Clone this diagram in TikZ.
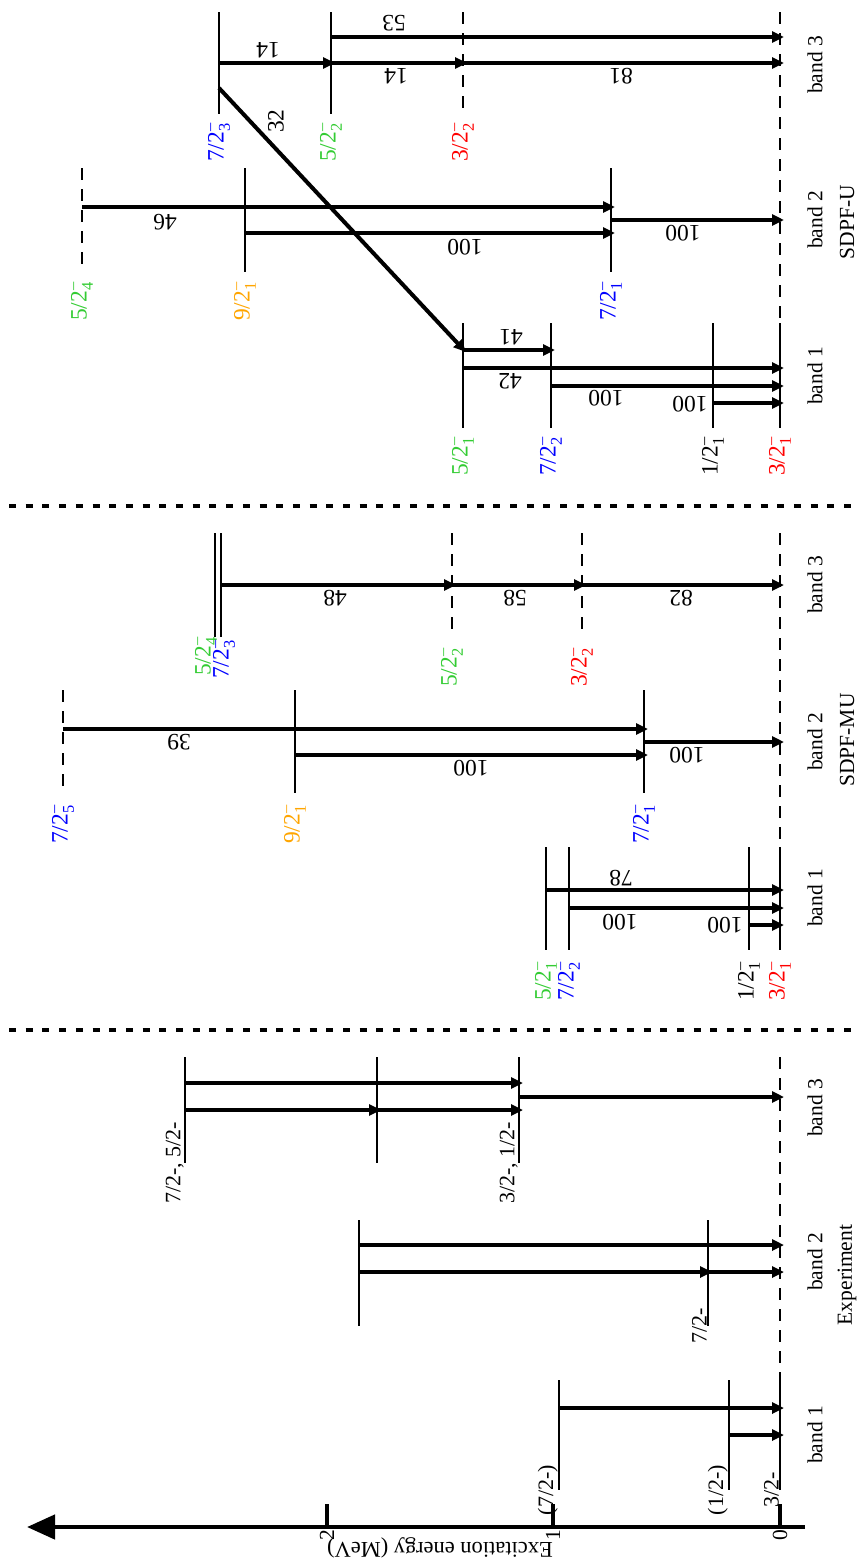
\documentclass[tikz,border=0pt]{standalone}
\usepackage{amsmath}
\usepackage{fontspec}
\setmainfont{Liberation Serif}
\setsansfont{Liberation Sans}
\usetikzlibrary{arrows.meta}
\definecolor{lvblue}{HTML}{0000FF}
\definecolor{lvgreen}{HTML}{33CC33}
\definecolor{lvred}{HTML}{FF0000}
\definecolor{lvorange}{HTML}{FFA500}
\newcommand{\jpi}[2]{#1$_{\text{#2}}^{\text{--}}$}

\begin{document}
\begin{tikzpicture}[x=1pt,y=-1pt,
font=\fontsize{21.5}{24}\selectfont,
lvl/.style={line width=1.6pt},
dlvl/.style={line width=1.6pt,dash pattern=on 12pt off 9pt},
lev/.style={inner sep=0pt,outer sep=0pt,minimum width=0pt,minimum height=#1,
append after command={(\tikzlastnode.north) edge[lvl] (\tikzlastnode.south)}},
dlev/.style={inner sep=0pt,outer sep=0pt,minimum width=0pt,minimum height=#1,
append after command={(\tikzlastnode.north) edge[dlvl] (\tikzlastnode.south)}},
tr/.style={line width=4pt,shorten >=-4pt,-{Triangle[length=12pt,width=11pt]}},
inten/.style={rotate=180,inner sep=0pt,font=\fontsize{23.5}{26}\selectfont},
spin/.style={rotate=90,anchor=east,inner sep=0pt,font=\fontsize{23.5}{26}\selectfont},
expspin/.style={rotate=90,anchor=south,inner sep=1pt,font=\fontsize{22}{24}\selectfont},
bandlab/.style={rotate=90,inner sep=0pt},
sep/.style={line width=4pt,dash pattern=on 7pt off 9.7pt}
]
\useasboundingbox (0,0) rectangle (862,1564);

% SDPF-U
\node[lev=102pt] (u3a) at (219,63) {};
\node[lev=102pt] (u3b) at (331,63) {};
\node[dlev=102pt] (u3c) at (463,63) {};
\node[dlev=104pt] (u2a) at (82,220) {};
\node[lev=104pt] (u2b) at (245,220) {};
\node[lev=104pt] (u2c) at (611,220) {};
\node[lev=105pt] (u1a) at (463,375.5) {};
\node[lev=105pt] (u1b) at (551,375.5) {};
\node[lev=105pt] (u1c) at (713,375.5) {};
\node[lev=105pt] (u1g) at (780,375.5) {};
\node[dlev=311pt] (u0) at (780,167.5) {};

\node[spin,lvblue] (lu3a) at ([yshift=-9pt]u3a.south) {\jpi{7/2}{3}};
\node[spin,lvgreen] (lu3b) at ([yshift=-9pt]u3b.south) {\jpi{5/2}{2}};
\node[spin,lvred] (lu3c) at ([yshift=-9pt]u3c.south) {\jpi{3/2}{2}};
\node[spin,lvgreen] (lu2a) at ([yshift=-10pt]u2a.south) {\jpi{5/2}{4}};
\node[spin,lvorange] (lu2b) at ([yshift=-10pt]u2b.south) {\jpi{9/2}{1}};
\node[spin,lvblue] (lu2c) at ([yshift=-10pt]u2c.south) {\jpi{7/2}{1}};
\node[spin,lvgreen] (lu1a) at ([yshift=-9pt]u1a.south) {\jpi{5/2}{1}};
\node[spin,lvblue] (lu1b) at ([yshift=-9pt]u1b.south) {\jpi{7/2}{2}};
\node[spin] (lu1c) at ([yshift=-9pt]u1c.south) {\jpi{1/2}{1}};
\node[spin,lvred] (lu1g) at ([yshift=-9pt]u1g.south) {\jpi{3/2}{1}};

\draw[tr] (u3b |- 0,37) -- (u1g |- 0,37);
\draw[tr] (u3a |- 0,63) -- (u3b |- 0,63);
\draw[tr] (u3b |- 0,63) -- (u3c |- 0,63);
\draw[tr] (u3c |- 0,63) -- (u1g |- 0,63);
\draw[tr] (u3a |- 0,88) -- (u1a |- 0,349);
\draw[tr] (u2a |- 0,207) -- (u2c |- 0,207);
\draw[tr] (u2b |- 0,233) -- (u2c |- 0,233);
\draw[tr] (u2c |- 0,220) -- (u1g |- 0,220);
\draw[tr] (u1a |- 0,350) -- (u1b |- 0,350);
\draw[tr] (u1a |- 0,368) -- (u1g |- 0,368);
\draw[tr] (u1b |- 0,386) -- (u1g |- 0,386);
\draw[tr] (u1c |- 0,403) -- (u1g |- 0,403);

\node[inten] (iu53) at (394,23) {53};
\node[inten] (iu14a) at (268,50) {14};
\node[inten] (iu14b) at (396,76) {14};
\node[inten] (iu81) at (621,76) {81};
\node[inten,rotate=-90] (iu32) at (276,121) {32};
\node[inten] (iu46) at (165,222) {46};
\node[inten] (iu100a) at (465,247) {100};
\node[inten] (iu100b) at (683,233) {100};
\node[inten] (iu41) at (511,337) {41};
\node[inten] (iu42) at (510,381) {42};
\node[inten] (iu100c) at (606,398) {100};
\node[inten] (iu100d) at (690,404) {100};

\node[bandlab] (bu3) at (815,65) {band 3};
\node[bandlab] (bu2) at (815,220) {band 2};
\node[bandlab] (bu1) at (815,376) {band 1};
\node[bandlab] (mu) at (847,222) {SDPF-U};

\coordinate (s1a) at (9,506);
\coordinate (s1b) at (860,506);
\draw[sep] (s1a) -- (s1b);

% SDPF-MU
\node[lev=104pt] (m3a) at (215,585) {};
\node[lev=104pt] (m3b) at (221,585) {};
\node[dlev=104pt] (m3c) at (452,585) {};
\node[dlev=104pt] (m3d) at (582,585) {};
\node[dlev=103pt] (m2a) at (63,741.5) {};
\node[lev=103pt] (m2b) at (295,741.5) {};
\node[lev=103pt] (m2c) at (644,741.5) {};
\node[lev=103pt] (m1a) at (546,898.5) {};
\node[lev=103pt] (m1b) at (569,898.5) {};
\node[lev=103pt] (m1c) at (749,898.5) {};
\node[lev=103pt] (m1g) at (780,898.5) {};
\node[dlev=314pt] (m0) at (780,690) {};

\node[spin,lvgreen] (lm3a) at (206,637) {\jpi{5/2}{4}};
\node[spin,lvblue] (lm3b) at (224,640) {\jpi{7/2}{3}};
\node[spin,lvgreen] (lm3c) at ([yshift=-11pt]m3c.south) {\jpi{5/2}{2}};
\node[spin,lvred] (lm3d) at ([yshift=-11pt]m3d.south) {\jpi{3/2}{2}};
\node[spin,lvblue] (lm2a) at ([yshift=-12pt]m2a.south) {\jpi{7/2}{5}};
\node[spin,lvorange] (lm2b) at ([yshift=-12pt]m2b.south) {\jpi{9/2}{1}};
\node[spin,lvblue] (lm2c) at ([yshift=-12pt]m2c.south) {\jpi{7/2}{1}};
\node[spin,lvgreen] (lm1a) at ([yshift=-12pt]m1a.south) {\jpi{5/2}{1}};
\node[spin,lvblue] (lm1b) at ([yshift=-12pt]m1b.south) {\jpi{7/2}{2}};
\node[spin] (lm1c) at ([yshift=-12pt]m1c.south) {\jpi{1/2}{1}};
\node[spin,lvred] (lm1g) at ([yshift=-12pt]m1g.south) {\jpi{3/2}{1}};

\draw[tr] (m3b |- 0,585) -- (m3c |- 0,585);
\draw[tr] (m3c |- 0,585) -- (m3d |- 0,585);
\draw[tr] (m3d |- 0,585) -- (m1g |- 0,585);
\draw[tr] (m2a |- 0,729) -- (m2c |- 0,729);
\draw[tr] (m2b |- 0,755) -- (m2c |- 0,755);
\draw[tr] (m2c |- 0,742) -- (m1g |- 0,742);
\draw[tr] (m1a |- 0,890) -- (m1g |- 0,890);
\draw[tr] (m1b |- 0,908) -- (m1g |- 0,908);
\draw[tr] (m1c |- 0,925) -- (m1g |- 0,925);

\node[inten] (im48) at (335,598) {48};
\node[inten] (im58) at (515,598) {58};
\node[inten] (im82) at (681,598) {82};
\node[inten] (im39) at (179,742) {39};
\node[inten] (im100a) at (471,768) {100};
\node[inten] (im100b) at (687,755) {100};
\node[inten] (im78) at (621,878) {78};
\node[inten] (im100c) at (620,922) {100};
\node[inten] (im100d) at (725,925) {100};

\node[bandlab] (bm3) at (815,585) {band 3};
\node[bandlab] (bm2) at (815,742) {band 2};
\node[bandlab] (bm1) at (815,898) {band 1};
\node[bandlab] (mmu) at (847,740) {SDPF-MU};

\coordinate (s2a) at (9,1030);
\coordinate (s2b) at (860,1030);
\draw[sep] (s2a) -- (s2b);

% Experiment
\node[lev=106pt] (e3a) at (185,1110) {};
\node[lev=106pt] (e3b) at (377,1110) {};
\node[lev=106pt] (e3c) at (519,1110) {};
\node[lev=106pt] (e2a) at (359,1273) {};
\node[lev=106pt] (e2b) at (708,1273) {};
\node[lev=110pt] (e1a) at (559,1435) {};
\node[lev=110pt] (e1b) at (729,1435) {};
\node[lev=110pt] (e1g) at (780,1435) {};
\node[dlev=323pt] (e0) at (780,1218.5) {};

\node[expspin] (le3a) at (e3a.south) {7/2-, 5/2-};
\node[expspin] (le3c) at (e3c.south) {3/2-, 1/2-};
\node[expspin] (le2b) at (e2b.south) {7/2-};
\node[expspin] (le1a) at (e1a.south) {(7/2-)};
\node[expspin] (le1b) at (e1b.south) {(1/2-)};
\node[expspin] (le1g) at (e1g.south) {3/2-};

\draw[tr] (e3a |- 0,1083) -- (e3c |- 0,1083);
\draw[tr] (e3a |- 0,1110) -- (e3b |- 0,1110);
\draw[tr] (e3b |- 0,1110) -- (e3c |- 0,1110);
\draw[tr] (e3c |- 0,1097) -- (e1g |- 0,1097);
\draw[tr] (e2a |- 0,1245) -- (e1g |- 0,1245);
\draw[tr] (e2a |- 0,1272) -- (e2b |- 0,1272);
\draw[tr] (e2b |- 0,1272) -- (e1g |- 0,1272);
\draw[tr] (e1a |- 0,1408) -- (e1g |- 0,1408);
\draw[tr] (e1b |- 0,1435) -- (e1g |- 0,1435);

\node[bandlab] (be3) at (815,1108) {band 3};
\node[bandlab] (be2) at (815,1262) {band 2};
\node[bandlab] (be1) at (815,1435) {band 1};
\node[bandlab] (mexp) at (847,1275) {Experiment};

% energy axis
\coordinate (ax0) at (805,1527);
\coordinate (ax1) at (27,1527);
\draw[line width=4.5pt,-{Triangle[length=28pt,width=24pt]}] (ax0) -- (ax1);
\foreach \e/\xp in {0/780,1/553,2/327}{
\coordinate (k\e) at (\xp,1527);
\draw[line width=4.5pt] (k\e) -- ++(0,-23);
\node[rotate=90,anchor=east,inner sep=1pt] (t\e) at ([yshift=-2pt]k\e) {\e};
}
\node[rotate=180,anchor=base,inner sep=0pt,font=\fontsize{22.5}{25}\selectfont] (etitle) at (440,1542) {Excitation energy (MeV)};
\end{tikzpicture}
\end{document}
